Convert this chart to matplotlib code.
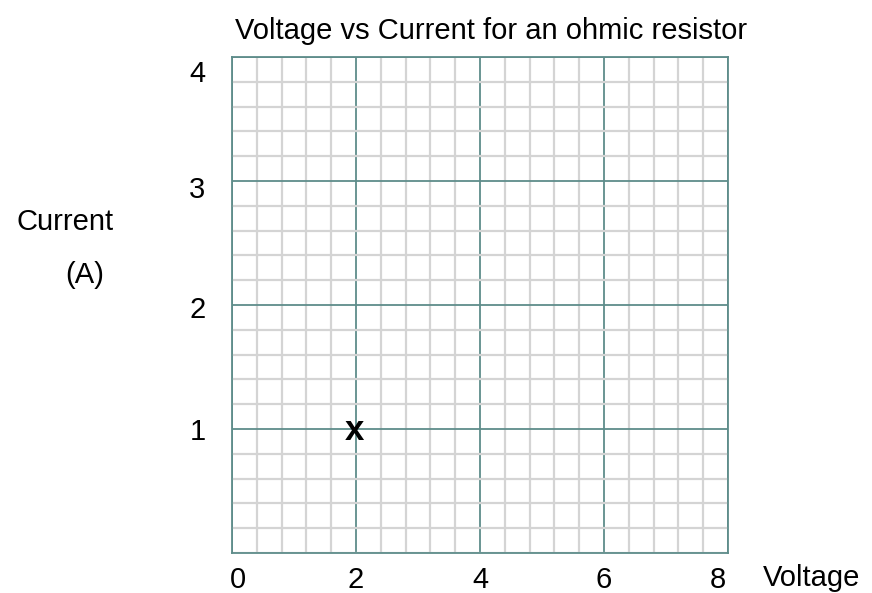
import matplotlib
matplotlib.use("Agg")
import matplotlib.pyplot as plt
from matplotlib.ticker import MultipleLocator
from matplotlib.transforms import ScaledTranslation

plt.rcParams['font.family'] = ['Liberation Sans', 'DejaVu Sans']

# data
x_ticks = [0, 2, 4, 6, 8]
y_ticks = [1, 2, 3, 4]
voltage = [2]
current = [1]

W, H = 872, 593
FS = 21
fig = plt.figure(figsize=(W / 100, H / 100), dpi=100)
ax = fig.add_axes([232 / W, 40 / H, 496 / W, 496 / H])
ax.set_xlim(0, 8)
ax.set_ylim(0, 4)

major_c = '#5e8c8a'
minor_c = '#d4d4d4'
ax.xaxis.set_major_locator(MultipleLocator(2))
ax.yaxis.set_major_locator(MultipleLocator(1))
ax.xaxis.set_minor_locator(MultipleLocator(0.4))
ax.yaxis.set_minor_locator(MultipleLocator(0.2))
ax.grid(which='minor', color=minor_c, linewidth=1.6, zorder=0)
ax.grid(which='major', color=major_c, linewidth=1.3, zorder=1)
ax.set_axisbelow(True)
for s in ax.spines.values():
    s.set_color(major_c)
    s.set_linewidth(1.3)

ax.set_xticks(x_ticks)
ax.set_xticklabels([str(v) for v in x_ticks])
ax.set_yticks(y_ticks)
ax.set_yticklabels([str(v) for v in y_ticks])
ax.tick_params(which='both', length=0)
ax.tick_params(axis='x', pad=9, labelsize=FS)
ax.tick_params(axis='y', pad=19, labelsize=FS)

# small per-label nudges (pixels)
x_off = {0: 6, 8: -10}
y_off = {2: -2, 3: -6, 4: -14}
for lab, v in zip(ax.get_xticklabels(), x_ticks):
    dx = x_off.get(v, 0)
    lab.set_transform(lab.get_transform() + ScaledTranslation(dx / 100, 0, fig.dpi_scale_trans))
for lab, v in zip(ax.get_yticklabels(), y_ticks):
    dy = y_off.get(v, 0)
    lab.set_transform(lab.get_transform() + ScaledTranslation(0, dy / 100, fig.dpi_scale_trans))

for xv, yv in zip(voltage, current):
    ax.text(xv, yv, 'x', fontsize=25, fontweight='bold', ha='center', va='center', zorder=5,
            transform=ax.transData + ScaledTranslation(-2 / 100, -1 / 100, fig.dpi_scale_trans))

fig.text(491 / W, 1 - 31 / H, 'Voltage vs Current for an ohmic resistor', fontsize=FS,
         ha='center', va='center')
fig.text(65 / W, 1 - 222 / H, 'Current', fontsize=FS, ha='center', va='center')
fig.text(85 / W, 1 - 275 / H, '(A)', fontsize=FS, ha='center', va='center')
fig.text(763 / W, 1 - 578 / H, 'Voltage', fontsize=FS, ha='left', va='center')

fig.savefig('out.png', dpi=100)
